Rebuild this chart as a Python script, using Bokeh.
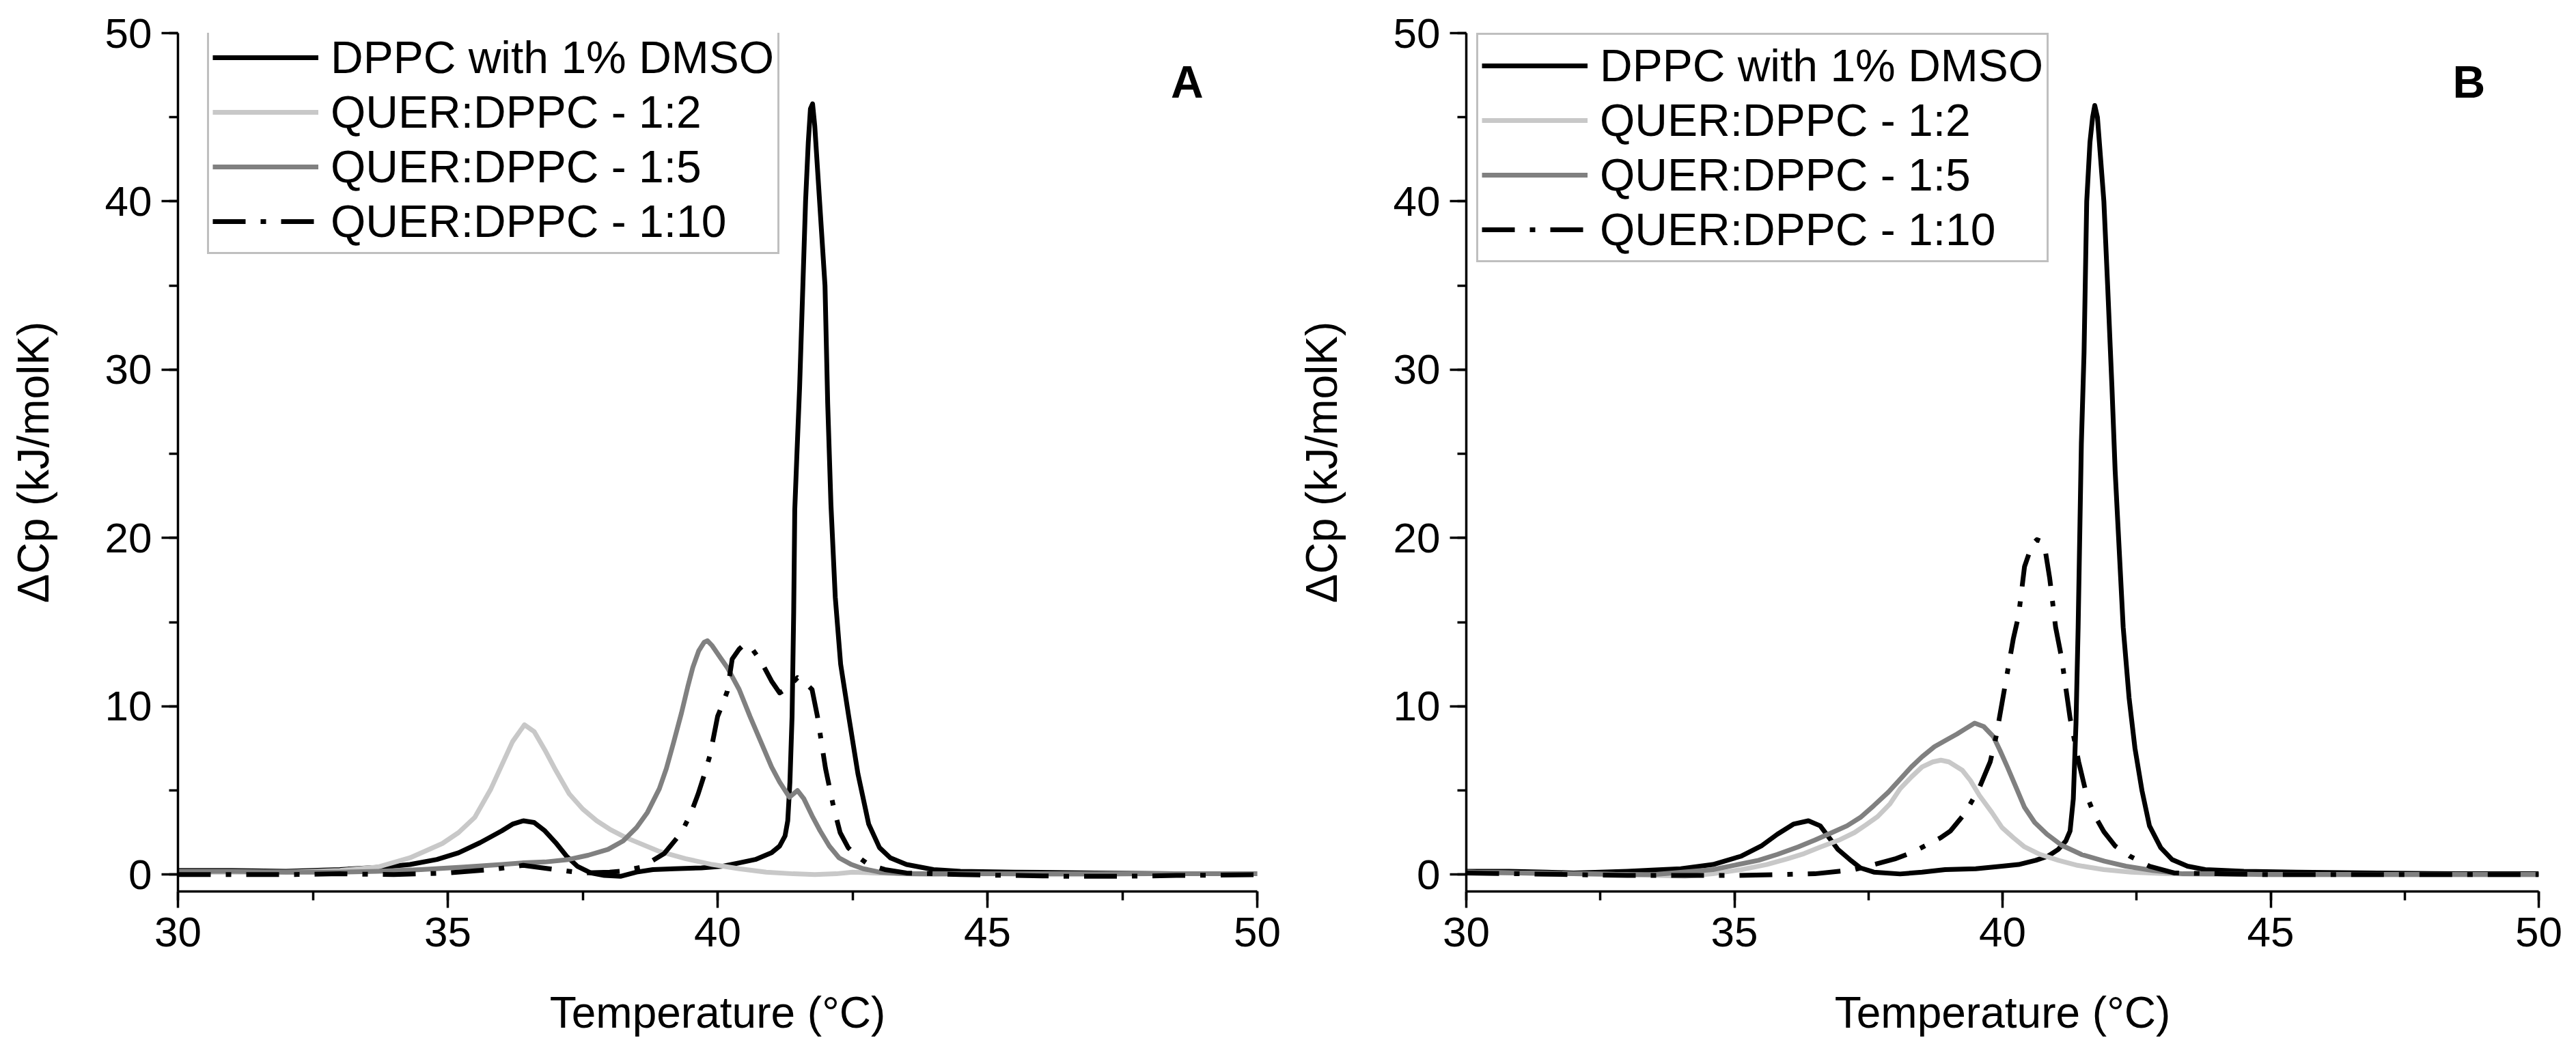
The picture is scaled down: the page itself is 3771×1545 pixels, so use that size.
from bokeh.embed import file_html
from bokeh.layouts import row
from bokeh.models import Label, Legend, LegendItem, Range1d, SingleIntervalTicker
from bokeh.plotting import figure
from bokeh.resources import INLINE

# ---------------------------------------------------------------------------
# DSC thermograms: excess heat capacity (kJ/molK) against temperature (°C)
# ---------------------------------------------------------------------------
series_names = ["DPPC with 1% DMSO", "QUER:DPPC - 1:2", "QUER:DPPC - 1:5", "QUER:DPPC - 1:10"]
panel_letters = ["A", "B"]
x_label = "Temperature (°C)"
y_label = "\u0394Cp (kJ/molK)"

# ---- Panel A ----
a_dppc_t = [30.0, 31.0, 32.0, 33.0, 33.8, 34.3, 34.8, 35.2, 35.6, 36.0, 36.2, 36.4, 36.6, 36.8,
            37.0, 37.2, 37.4, 37.65, 37.9, 38.2, 38.5, 38.8, 39.2, 39.7, 40.1, 40.4, 40.7, 41.0,
            41.15, 41.25, 41.3, 41.34, 41.38, 41.41, 41.43, 41.47, 41.52, 41.58, 41.63, 41.68,
            41.72, 41.76, 41.8, 41.86, 41.93, 41.99, 42.04, 42.1, 42.18, 42.28, 42.43, 42.6, 42.8,
            43.0, 43.2, 43.5, 44.0, 44.5, 45.5, 47.0, 48.5, 50.0]
a_dppc_cp = [0.25, 0.25, 0.2, 0.3, 0.45, 0.6, 0.9, 1.3, 1.9, 2.6, 3.0, 3.2, 3.1, 2.6,
             1.9, 1.1, 0.5, 0.1, -0.05, -0.1, 0.15, 0.3, 0.35, 0.4, 0.5, 0.7, 0.9, 1.3,
             1.7, 2.3, 3.2, 5.5, 9.4, 15.6, 21.7, 25.0, 29.0, 35.0, 40.0, 43.5,
             45.5, 45.8, 44.5, 41.5, 38.0, 35.0, 28.0, 22.0, 16.5, 12.5, 9.4, 6.0, 3.0,
             1.6, 1.0, 0.6, 0.3, 0.2, 0.15, 0.1, 0.05, 0.05]

a_q12_t = [30.0, 31.0, 32.0, 33.0, 33.7, 34.3, 34.9, 35.2, 35.5, 35.8, 36.0, 36.2, 36.42, 36.6,
           36.8, 37.0, 37.25, 37.5, 37.76, 38.0, 38.3, 38.9, 39.4, 39.9, 40.4, 40.9, 41.4, 41.8,
           42.2, 42.5, 42.9, 43.4, 44.0, 45.0, 46.0, 47.0, 48.0, 49.0, 50.0]
a_q12_cp = [0.15, 0.15, 0.15, 0.25, 0.45, 1.0, 1.85, 2.5, 3.4, 5.1, 6.5, 7.9, 8.9, 8.5,
            7.4, 6.2, 4.8, 3.9, 3.2, 2.7, 2.2, 1.4, 0.95, 0.6, 0.35, 0.15, 0.05, 0.0,
            0.05, 0.15, 0.1, 0.05, 0.0, 0.05, 0.0, 0.0, 0.05, 0.05, 0.05]

a_q15_t = [30.0, 31.0, 32.0, 33.0, 33.7, 34.5, 35.3, 36.0, 36.4, 36.8, 37.24, 37.6, 37.97, 38.25,
           38.5, 38.7, 38.92, 39.05, 39.18, 39.33, 39.45, 39.54, 39.65, 39.75, 39.81, 39.9, 40.05,
           40.18, 40.4, 40.6, 40.8, 41.0, 41.15, 41.33, 41.48, 41.6, 41.75, 41.9, 42.07, 42.25,
           42.48, 42.7, 43.0, 43.5, 44.5, 46.0, 48.0, 50.0]
a_q15_cp = [0.2, 0.2, 0.15, 0.15, 0.2, 0.3, 0.45, 0.6, 0.7, 0.75, 0.9, 1.15, 1.5, 2.0,
            2.8, 3.7, 5.1, 6.3, 7.8, 9.6, 11.2, 12.3, 13.3, 13.8, 13.9, 13.6, 12.9,
            12.3, 11.0, 9.4, 7.9, 6.4, 5.5, 4.6, 5.0, 4.5, 3.5, 2.6, 1.7, 1.0,
            0.6, 0.35, 0.15, 0.05, 0.05, 0.05, 0.05, 0.05]

a_q110_t = [30.0, 31.0, 32.0, 33.0, 34.0, 35.0, 35.8, 36.4, 37.0, 37.5, 38.0, 38.2, 38.6, 39.01,
            39.33, 39.5, 39.64, 39.76, 39.86, 40.0, 40.1, 40.18, 40.27, 40.4, 40.5, 40.62, 40.8,
            41.0, 41.15, 41.3, 41.48, 41.62, 41.75, 41.85, 42.0, 42.15, 42.27, 42.42, 42.58, 42.8,
            43.1, 43.5, 44.5, 45.5, 46.5, 47.5, 48.5, 50.0]
a_q110_cp = [0.0, 0.0, 0.0, 0.05, 0.0, 0.1, 0.3, 0.55, 0.3, 0.1, 0.15, 0.2, 0.45, 1.25,
             2.5, 3.6, 4.8, 6.0, 7.1, 9.4, 10.2, 10.9, 12.8, 13.4, 13.7, 13.5, 12.7,
             11.5, 10.8, 11.1, 11.7, 11.4, 11.0, 9.4, 6.3, 4.0, 2.5, 1.6, 1.1, 0.6,
             0.3, 0.1, 0.0, -0.05, -0.1, -0.1, -0.05, 0.0]

# ---- Panel B ----
b_dppc_t = [30.0, 30.8, 31.5, 32.0, 33.0, 34.0, 34.6, 35.13, 35.5, 35.8, 36.1, 36.38, 36.6, 36.93,
            37.15, 37.35, 37.6, 38.09, 38.5, 38.93, 39.5, 39.99, 40.3, 40.62, 40.85, 41.04, 41.18,
            41.26, 41.32, 41.37, 41.41, 41.47, 41.52, 41.57, 41.63, 41.68, 41.72, 41.77, 41.83,
            41.89, 41.96, 42.04, 42.1, 42.25, 42.36, 42.47, 42.6, 42.74, 42.95, 43.16, 43.45, 43.78,
            44.5, 45.5, 47.0, 48.5, 50.0]
b_dppc_cp = [0.2, 0.2, 0.15, 0.1, 0.2, 0.35, 0.6, 1.1, 1.7, 2.4, 3.0, 3.2, 2.9, 1.5,
             0.9, 0.4, 0.15, 0.04, 0.15, 0.3, 0.35, 0.5, 0.6, 0.85, 1.1, 1.5, 2.0,
             2.6, 4.5, 9.0, 14.7, 25.6, 31.0, 40.0, 43.5, 45.0, 45.7, 45.0, 42.5,
             40.0, 35.0, 29.0, 24.0, 14.7, 10.5, 7.5, 5.0, 2.9, 1.6, 0.9, 0.5, 0.3,
             0.2, 0.15, 0.1, 0.05, 0.05]

b_q12_t = [30.0, 31.0, 32.0, 33.0, 34.08, 34.6, 35.13, 35.6, 35.98, 36.3, 36.61, 36.95, 37.24,
           37.45, 37.67, 37.9, 38.09, 38.3, 38.5, 38.7, 38.85, 39.0, 39.25, 39.4, 39.57, 39.8,
           39.99, 40.2, 40.41, 40.7, 41.04, 41.4, 41.89, 42.4, 43.05, 44.0, 45.0, 46.5, 48.0, 50.0]
b_q12_cp = [0.15, 0.1, 0.05, 0.0, -0.1, 0.05, 0.3, 0.6, 0.93, 1.25, 1.65, 2.05, 2.5,
            2.95, 3.45, 4.2, 5.1, 5.8, 6.4, 6.7, 6.8, 6.7, 6.2, 5.6, 4.7, 3.7,
            2.8, 2.2, 1.65, 1.2, 0.85, 0.55, 0.3, 0.15, 0.05, 0.0, 0.0, 0.0, 0.0, 0.0]

b_q15_t = [30.0, 31.0, 32.0, 33.0, 33.5, 34.6, 35.45, 35.8, 36.19, 36.5, 36.82, 37.1, 37.35, 37.6,
           37.87, 38.1, 38.3, 38.5, 38.73, 38.95, 39.15, 39.3, 39.48, 39.65, 39.83, 39.95, 40.09,
           40.25, 40.41, 40.6, 40.83, 41.1, 41.47, 41.9, 42.3, 42.8, 43.36, 44.0, 45.0, 46.5,
           48.0, 50.0]
b_q15_cp = [0.15, 0.1, 0.05, 0.0, 0.0, 0.3, 0.85, 1.2, 1.65, 2.05, 2.5, 2.9, 3.4, 4.1,
            4.9, 5.7, 6.4, 7.0, 7.6, 8.0, 8.35, 8.65, 9.0, 8.8, 8.2, 7.4, 6.4,
            5.2, 4.0, 3.1, 2.4, 1.75, 1.2, 0.8, 0.5, 0.25, 0.05, 0.05, 0.0, 0.0,
            0.0, 0.0]

b_q110_t = [30.0, 31.0, 32.0, 33.0, 34.0, 35.0, 35.8, 36.5, 37.24, 37.6, 37.99, 38.3, 38.61, 38.85,
            39.03, 39.3, 39.56, 39.77, 39.88, 40.04, 40.2, 40.3, 40.41, 40.55, 40.64, 40.72, 40.78,
            40.88, 40.99, 41.1, 41.26, 41.42, 41.57, 41.72, 41.89, 42.1, 42.37, 42.74, 43.2, 44.0,
            45.0, 46.5, 48.0, 50.0]
b_q110_cp = [0.1, 0.05, 0.0, -0.05, -0.05, -0.05, 0.0, 0.05, 0.3, 0.6, 0.93, 1.3, 1.8, 2.2,
             2.6, 3.65, 5.1, 6.7, 8.2, 11.1, 14.0, 15.4, 18.3, 19.6, 19.9, 19.8, 19.6,
             17.6, 14.7, 12.9, 9.3, 6.7, 4.7, 3.5, 2.55, 1.7, 1.1, 0.5, 0.1, 0.05,
             0.0, 0.0, 0.0, 0.0]

panel_data = {
    "A": [(a_dppc_t, a_dppc_cp), (a_q12_t, a_q12_cp), (a_q15_t, a_q15_cp), (a_q110_t, a_q110_cp)],
    "B": [(b_dppc_t, b_dppc_cp), (b_q12_t, b_q12_cp), (b_q15_t, b_q15_cp), (b_q110_t, b_q110_cp)],
}

# ---- styling ----
FONT = "Liberation Sans"
line_styles = [
    dict(line_color="#000000", line_dash="solid"),
    dict(line_color="#c8c8c8", line_dash="solid"),
    dict(line_color="#808080", line_dash="solid"),
    dict(line_color="#000000", line_dash="48 22 8 22"),
]

# per-panel geometry: figure width, borders, legend offset from the frame's bottom-left
geometry = {
    "A": dict(width=1890, left=260, right=50, top=47, bottom=229, legend=(43, 933)),
    "B": dict(width=1881, left=256, right=55, top=48, bottom=240, legend=(15, 921)),
}


def make_panel(letter):
    g = geometry[letter]
    p = figure(width=g["width"], height=1545, output_backend="svg", toolbar_location=None,
               x_range=Range1d(30, 50), y_range=Range1d(-1.0, 50),
               min_border_left=g["left"], min_border_right=g["right"],
               min_border_top=g["top"], min_border_bottom=g["bottom"])
    p.outline_line_color = None
    p.xgrid.visible = False
    p.ygrid.visible = False
    p.background_fill_color = "white"
    p.border_fill_color = "white"

    for ax, interval in ((p.xaxis[0], 5), (p.yaxis[0], 10)):
        ax.ticker = SingleIntervalTicker(interval=interval, num_minor_ticks=2)
        ax.axis_line_width = 3.5
        ax.axis_line_color = "black"
        ax.major_tick_line_width = 3.5
        ax.minor_tick_line_width = 3.5
        ax.major_tick_out = 24
        ax.major_tick_in = 0
        ax.minor_tick_out = 13
        ax.minor_tick_in = 0
        ax.major_label_text_font = FONT
        ax.major_label_text_font_size = "62px"
        ax.major_label_text_color = "black"
        ax.major_label_standoff = 14
        ax.axis_label_text_font = FONT
        ax.axis_label_text_font_size = "64px"
        ax.axis_label_text_font_style = "normal"
        ax.axis_label_text_color = "black"

    p.xaxis.axis_label = x_label
    p.xaxis.axis_label_standoff = 58
    p.yaxis.axis_label = y_label
    p.yaxis.axis_label_standoff = 66

    renderers = []
    for (t, cp), style in zip(panel_data[letter], line_styles):
        r = p.line(t, cp, line_width=7, line_join="round", **style)
        renderers.append(r)

    legend = Legend(
        items=[LegendItem(label=name, renderers=[r]) for name, r in zip(series_names, renderers)],
        location=g["legend"],
        label_text_font=FONT, label_text_font_size="66px", label_text_color="black",
        label_height=80, glyph_height=80, glyph_width=155, label_standoff=18,
        spacing=0, padding=5, margin=0,
        border_line_color="#808080", border_line_width=3,
        background_fill_color="white", background_fill_alpha=1.0,
    )
    p.add_layout(legend)

    p.add_layout(Label(x=48.7, y=47.1, text=letter, text_align="center", text_baseline="middle",
                       text_font=FONT, text_font_size="66px", text_font_style="bold",
                       text_color="black"))
    return p


layout = row(*[make_panel(letter) for letter in panel_letters])

with open("out.html", "w") as fh:
    fh.write(file_html(layout, INLINE))
